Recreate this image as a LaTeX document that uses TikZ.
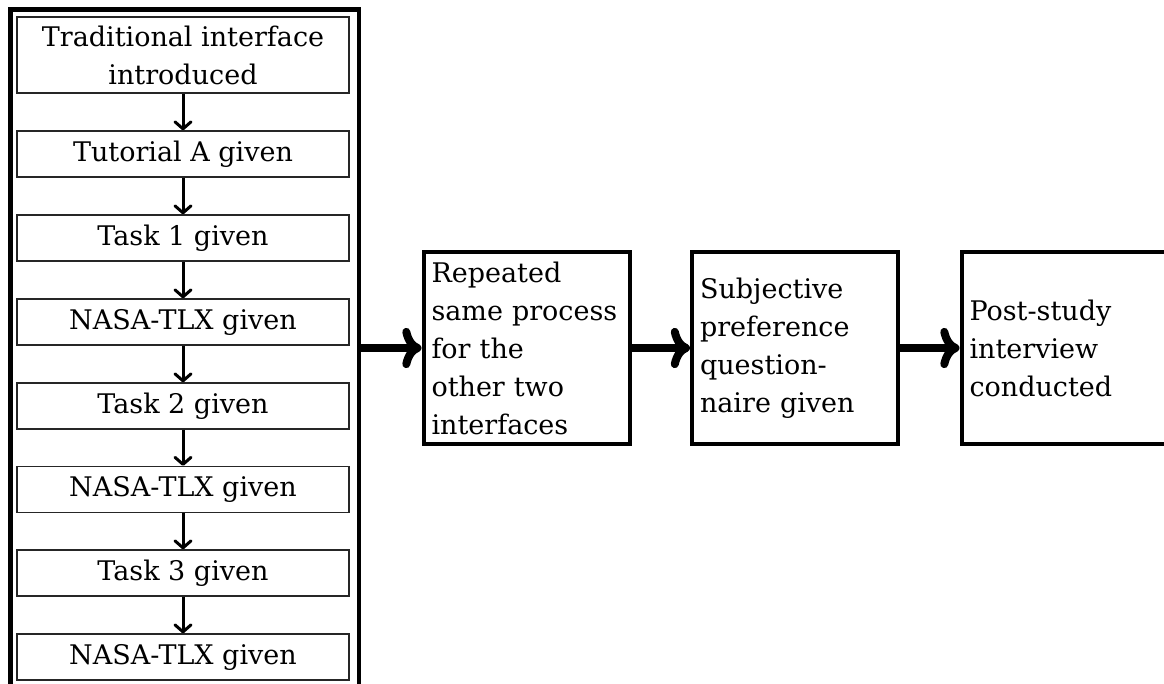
\documentclass[tikz,border=0pt]{standalone}
\usepackage{fontspec}
\setmainfont{DejaVu Serif}
\usetikzlibrary{arrows.meta}
\begin{document}
\begin{tikzpicture}[x=1pt,y=-1pt,
  every node/.style={font=\fontsize{27}{38}\selectfont},
  inbox/.style={draw=black!85,line width=1.3pt,minimum width=332pt,minimum height=46pt,inner sep=0pt,align=center},
  sidebox/.style={draw,line width=4pt,minimum width=206pt,minimum height=192pt,text width=190pt,inner sep=0pt,align=left},
  thinarrow/.style={-{Straight Barb[length=7pt,width=16pt,round]},line width=3pt},
  thickarrow/.style={->,line width=8pt}
]
\useasboundingbox (0,0) rectangle (1164,684);
\node[draw,line width=4.5pt,minimum width=348.5pt,minimum height=710pt,inner sep=0pt] (outer) at (184.75,364.5) {};
\node[inbox,minimum height=76pt] (b1) at (183,55) {Traditional interface\\introduced};
\node[inbox] (b2) at (183,154) {Tutorial A given};
\node[inbox] (b3) at (183,238) {Task 1 given};
\node[inbox] (b4) at (183,322) {NASA-TLX given};
\node[inbox] (b5) at (183,406) {Task 2 given};
\node[inbox] (b6) at (183,489.5) {NASA-TLX given};
\node[inbox] (b7) at (183,573) {Task 3 given};
\node[inbox] (b8) at (183,657) {NASA-TLX given};
\foreach \a/\b in {b1/b2,b2/b3,b3/b4,b4/b5,b5/b6,b6/b7,b7/b8}
  \draw[thinarrow] (\a) -- (\b);
\node[sidebox] (rep) at (526.5,348) {Repeated\\same process\\for the\\other two\\interfaces};
\node[sidebox] (subj) at (795,348) {Subjective\\preference\\question-\\naire given};
\node[sidebox] (post) at (1064.5,348) {Post-study\\interview\\conducted};
\draw[thickarrow] (outer.east |- rep.west) -- (rep.west);
\draw[thickarrow] (rep) -- (subj);
\draw[thickarrow] (subj) -- (post);
\end{tikzpicture}
\end{document}
